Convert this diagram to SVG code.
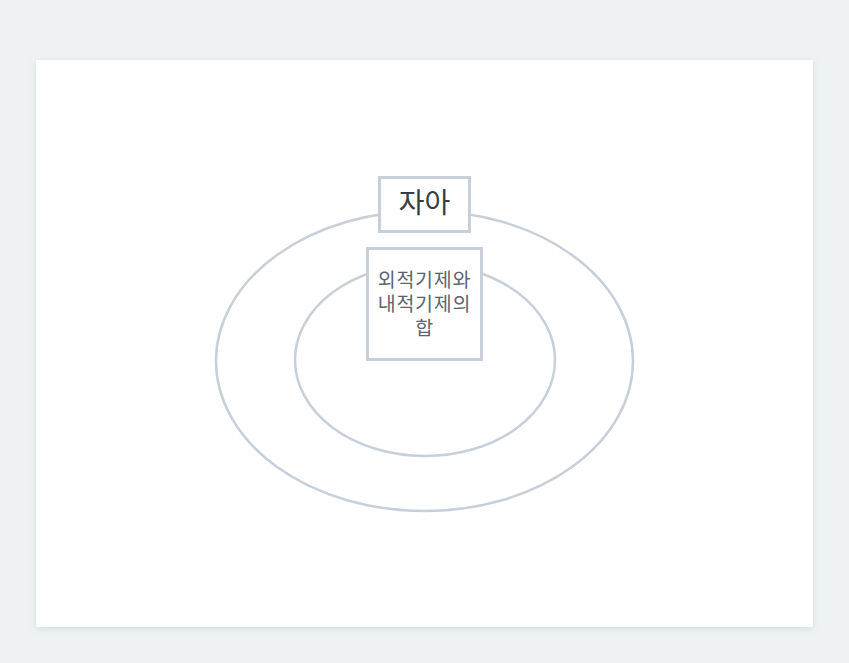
<svg xmlns="http://www.w3.org/2000/svg" width="849" height="663" viewBox="0 0 849 663">
<defs>
<filter id="sh" x="-5%" y="-5%" width="110%" height="110%">
<feDropShadow dx="0" dy="2" stdDeviation="3" flood-color="#8a96a3" flood-opacity="0.25"/>
</filter>
<style>
.ring{fill:none;stroke:#c7d0d8;stroke-width:2.5}
.box{fill:#fff;stroke:#c7d0d8;stroke-width:3}
.t{font-family:"Noto Sans CJK KR","Noto Sans",sans-serif;text-anchor:middle}
</style>
</defs>
<rect width="849" height="663" fill="#eef2f5"/>
<rect x="36" y="60" width="777" height="567" fill="#fff" filter="url(#sh)"/>
<g id="connectors"></g>
<g id="outer-ring"><ellipse class="ring" cx="424.5" cy="361" rx="208.5" ry="150"/></g>
<g id="inner-ring"><ellipse class="ring" cx="425" cy="360" rx="130" ry="96"/></g>
<g id="self">
<rect class="box" x="379.5" y="177.5" width="90" height="54"/>
<text class="t" x="424.5" y="213" font-size="28" fill="#343e48">자아</text>
</g>
<g id="sum">
<rect class="box" x="367.5" y="248.5" width="114" height="111"/>
<text class="t" font-size="19.5" letter-spacing="0.8" fill="#5b6570"><tspan x="424.5" y="287">외적기제와</tspan><tspan x="424.5" y="311">내적기제의</tspan><tspan x="424.5" y="335">합</tspan></text>
</g>
</svg>
